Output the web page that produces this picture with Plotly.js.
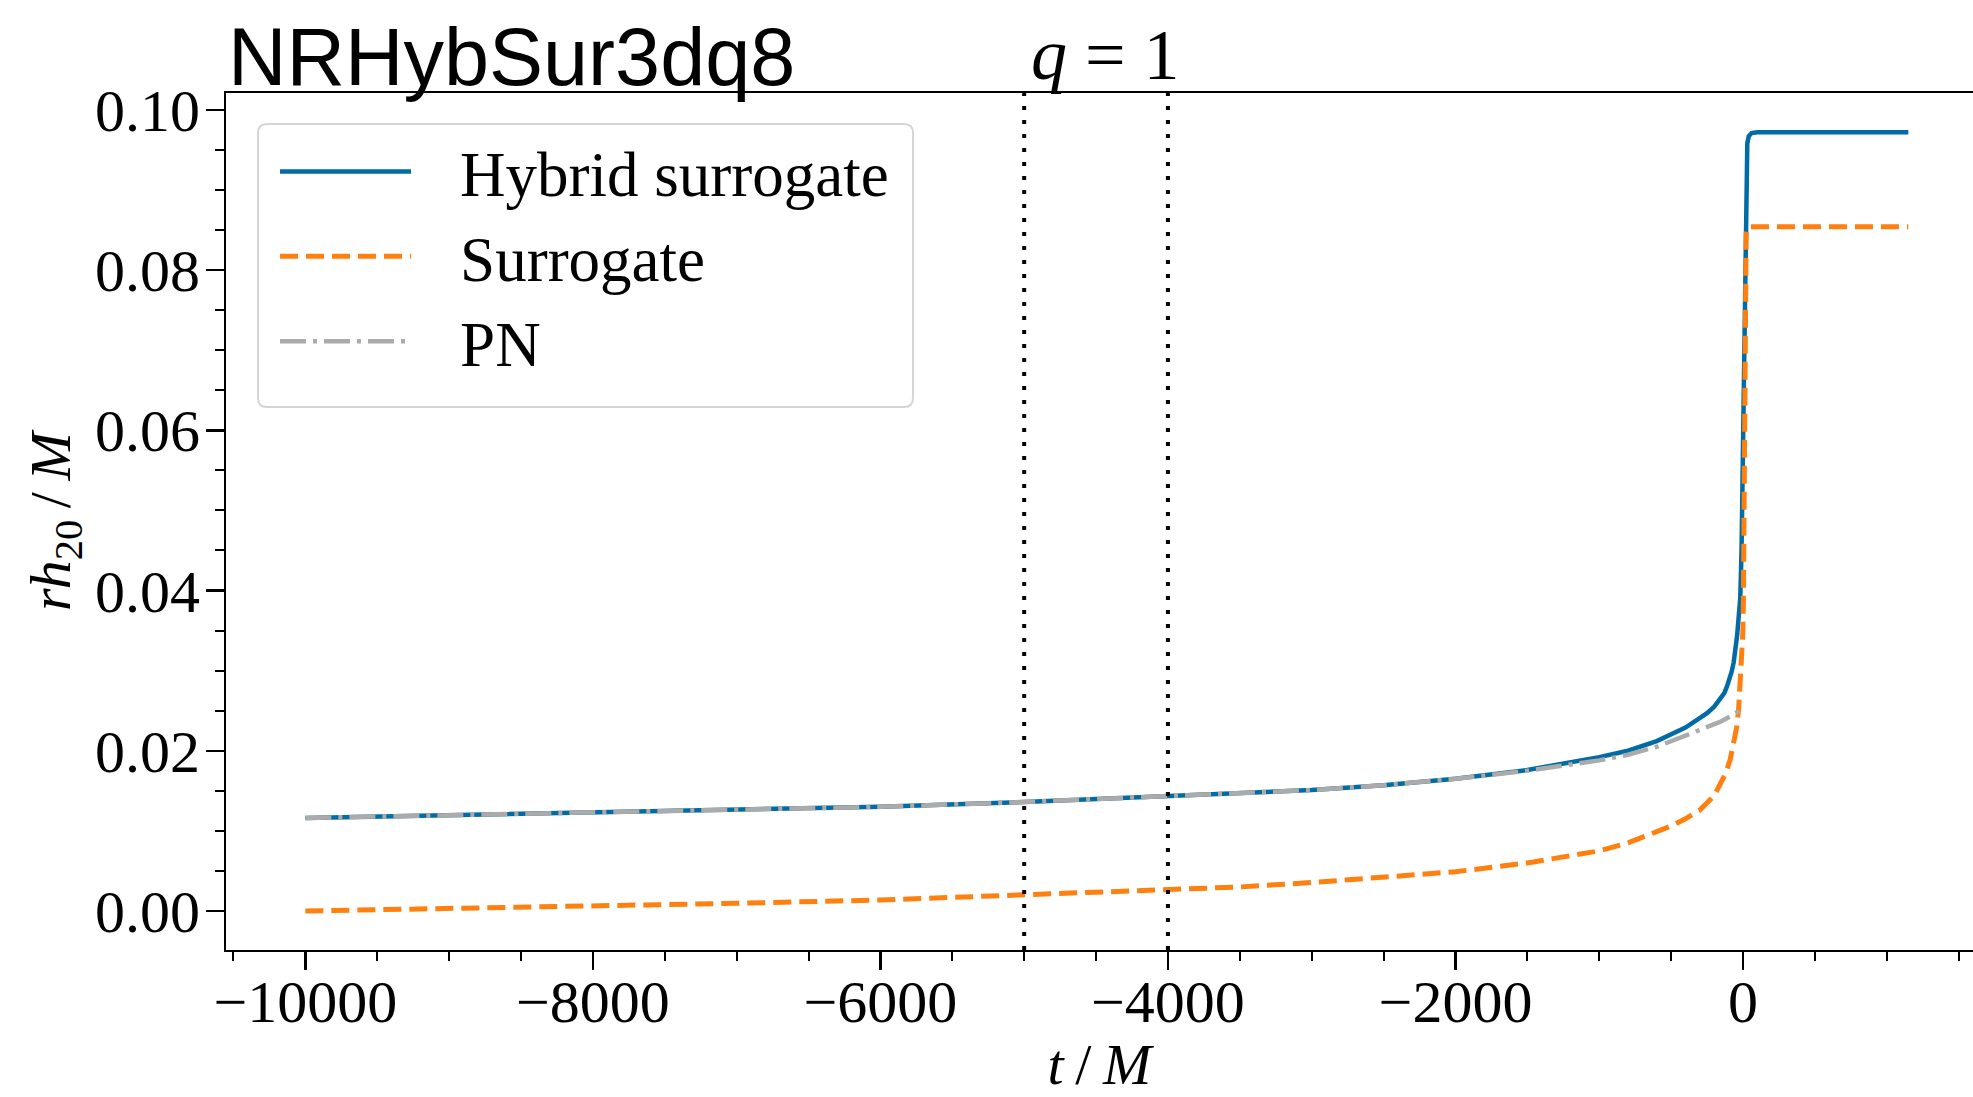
<!DOCTYPE html>
<html>
<head>
<meta charset="utf-8">
<script src="https://cdn.plot.ly/plotly-3.0.1.min.js"></script>
<style>html,body{margin:0;padding:0;background:#fff;}</style>
</head>
<body>
<div id="chart" style="width:1973px;height:1097px;"></div>
<script>
// ---- data ----
const seriesNames = ['Hybrid surrogate', 'Surrogate', 'PN'];

const hybridT = [-10000,-9000,-8000,-7000,-6000,-5000,-4000,-3500,-3000,-2500,-2000,-1500,-1000,-800,-600,-400,-300,-250,-200,-150,-130,-112,-95,-80,-65,-54,-40,-31,-25,-19,-10,-5,0,5,10,15,22,30,40,60,100,1150];
const hybridY = [0.01161,0.01196,0.0123,0.01262,0.0130,0.0136,0.0143,0.0147,0.0151,0.0157,0.0165,0.0176,0.0192,0.0200,0.0212,0.0229,0.0240,0.0247,0.0255,0.0266,0.0272,0.0280,0.0289,0.0298,0.0310,0.0322,0.0345,0.0365,0.0377,0.0390,0.0450,0.0520,0.0600,0.0680,0.0760,0.0830,0.0920,0.0958,0.0967,0.0971,0.0972,0.0972];

const surT = [-10000,-9000,-8000,-7000,-6000,-5000,-4000,-3500,-3000,-2500,-2000,-1500,-1000,-800,-600,-500,-400,-300,-200,-160,-120,-89,-60,-43,-30,-19,-10,-1,3,8,12,16,22,30,50,1150];
const surY = [0.0000,0.0003,0.0006,0.00096,0.00137,0.0020,0.00254,0.0030,0.00355,0.0042,0.0049,0.0060,0.0075,0.0085,0.0099,0.0106,0.0115,0.0126,0.0144,0.0157,0.0172,0.0189,0.0212,0.0230,0.0253,0.0284,0.0315,0.0347,0.0388,0.0500,0.0650,0.0780,0.0845,0.0853,0.0854,0.0854];

const pnT = [-10000,-9000,-8000,-7000,-6000,-5000,-4000,-3500,-3000,-2500,-2000,-1500,-1000,-800,-600,-400,-300,-160,-66,3];
const pnY = [0.01161,0.01196,0.0123,0.01262,0.0130,0.0136,0.0143,0.0147,0.0151,0.0157,0.0165,0.0175,0.0188,0.0195,0.0205,0.0219,0.0226,0.0236,0.0245,0.0254];

const markerLinesT = [-5000, -4000];   // dotted vertical lines
const markerLabel = '<i>q</i> = 1';
const markerLabelT = -4500;

const xTickVals = [-10000,-8000,-6000,-4000,-2000,0];
const xTickText = ['\u221210000','\u22128000','\u22126000','\u22124000','\u22122000','0'];
const yTickVals = [0,0.02,0.04,0.06,0.08,0.10];
const yTickText = ['0.00','0.02','0.04','0.06','0.08','0.10'];

// ---- geometry (pixels) ----
const W = 1973, H = 1097;
const M = {l:226, r:0, t:93, b:147};
const PW = W - M.l - M.r, PH = H - M.t - M.b;
const px2x = p => (p - M.l) / PW;
const py2y = p => (H - M.b - p) / PH;

function roundedBox(x0, y0, x1, y1, r) {
  const rx = r / PW, ry = r / PH;
  const X0 = px2x(x0), X1 = px2x(x1), Y0 = py2y(y0), Y1 = py2y(y1);
  return `M${X0+rx},${Y0} L${X1-rx},${Y0} Q${X1},${Y0} ${X1},${Y0-ry} L${X1},${Y1+ry} Q${X1},${Y1} ${X1-rx},${Y1} L${X0+rx},${Y1} Q${X0},${Y1} ${X0},${Y1+ry} L${X0},${Y0-ry} Q${X0},${Y0} ${X0+rx},${Y0} Z`;
}

const legendPad = '\u2002\u2009';
const traces = [
  {x: hybridT, y: hybridY, name: legendPad + seriesNames[0], type: 'scatter', mode: 'lines',
   line: {color: '#006BA4', width: 4.5}},
  {x: surT, y: surY, name: legendPad + seriesNames[1], type: 'scatter', mode: 'lines',
   line: {color: '#FF800E', width: 5, dash: '18px,8px'}},
  {x: pnT, y: pnY, name: legendPad + seriesNames[2], type: 'scatter', mode: 'lines',
   line: {color: '#ABABAB', width: 4.5, dash: '26px,7px,4px,7px'}}
];

const shapes = markerLinesT.map(t => ({
  type: 'line', xref: 'x', yref: 'paper', x0: t, x1: t, y0: 0, y1: 1,
  line: {color: 'black', width: 4, dash: '4px,10px'}, layer: 'above'
}));
shapes.push({
  type: 'path', xref: 'paper', yref: 'paper', path: roundedBox(258, 124, 913, 407, 9),
  line: {color: '#d5d5d5', width: 2}, fillcolor: 'white', layer: 'below'
});

const axisCommon = {
  showline: true, linecolor: 'black', linewidth: 2,
  ticks: 'outside', ticklen: 18, tickwidth: 2.5, tickcolor: 'black',
  showgrid: false, zeroline: false,
  tickfont: {family: 'Liberation Serif', size: 60, color: 'black'}
};

const layout = {
  width: W, height: H,
  margin: {l: M.l, r: M.r, t: M.t, b: M.b, pad: 0},
  paper_bgcolor: 'white', plot_bgcolor: 'white',
  font: {family: 'Liberation Serif', color: 'black'},
  title: {
    text: 'NRHybSur3dq8',
    font: {family: 'Liberation Sans', size: 81, color: 'black'},
    xref: 'container', x: 228 / W, xanchor: 'left',
    yref: 'container', y: 1 - 85 / H, yanchor: 'bottom'
  },
  xaxis: Object.assign({}, axisCommon, {
    range: [-10552, 1600], mirror: true,
    tickmode: 'array', tickvals: xTickVals, ticktext: xTickText,
    ticklabelstandoff: -20,
    minor: {tickmode: 'linear', tick0: 0, dtick: 500, ticks: 'outside', ticklen: 9, tickwidth: 2, tickcolor: 'black', showgrid: false},
    title: {text: '<i>t</i>\u2009/\u2009<i>M</i>', font: {family: 'Liberation Serif', size: 58, color: 'black'}, standoff: 30}
  }),
  yaxis: Object.assign({}, axisCommon, {
    range: [-0.00487, 0.1021], mirror: false,
    tickmode: 'array', tickvals: yTickVals, ticktext: yTickText,
    ticklabelstandoff: -6,
    minor: {tickmode: 'linear', tick0: 0, dtick: 0.005, ticks: 'outside', ticklen: 9, tickwidth: 2, tickcolor: 'black', showgrid: false},
    title: {text: '<i>rh</i><sub>20</sub>\u2009/\u2009<i>M</i>', font: {family: 'Liberation Serif', size: 58, color: 'black'}, standoff: 6}
  }),
  showlegend: true,
  legend: {
    x: px2x(275), y: py2y(124), xanchor: 'left', yanchor: 'top',
    bgcolor: 'rgba(0,0,0,0)', borderwidth: 0,
    font: {family: 'Liberation Serif', size: 63, color: 'black'},
    itemwidth: 131, tracegroupgap: 0
  },
  shapes: shapes,
  annotations: [{
    text: markerLabel, xref: 'x', x: markerLabelT, yref: 'paper', y: 1, yanchor: 'bottom',
    xanchor: 'center', xshift: 9, yshift: -4, showarrow: false,
    font: {family: 'Liberation Serif', size: 72, color: 'black'}
  }]
};

Plotly.newPlot('chart', traces, layout, {displayModeBar: false, staticPlot: true});
</script>
</body>
</html>
